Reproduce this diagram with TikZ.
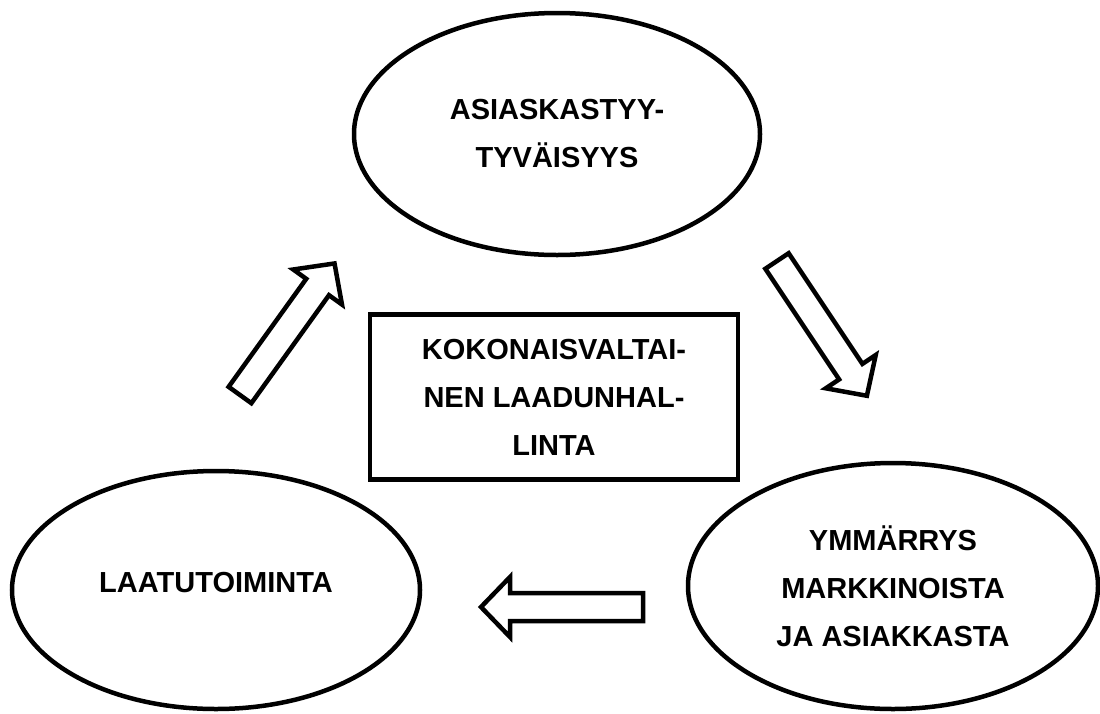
\documentclass[tikz,border=0pt]{standalone}
\usepackage{fontspec}
\setmainfont{Liberation Sans}
\usetikzlibrary{shapes.geometric}

\tikzset{
  oval/.style={draw, ellipse, line width=4.5pt, inner sep=0pt, align=center,
    font=\bfseries\fontsize{29}{48}\selectfont},
  box/.style={draw, rectangle, line width=4.5pt, inner sep=0pt, align=center,
    minimum width=368pt, minimum height=165pt,
    font=\bfseries\fontsize{29}{48}\selectfont},
  blockarrow/.pic={
    \draw[line width=4.5pt, line join=miter] (0,-14) -- (133,-14) -- (133,-30) -- (162,0)
      -- (133,30) -- (133,14) -- (0,14) -- cycle;
  }
}

\begin{document}
\begin{tikzpicture}[x=1pt, y=-1pt]
\useasboundingbox (0,0) rectangle (1100,713);
\node[oval, minimum width=406pt, minimum height=242pt] (tyytyvaisyys) at (557,134) {ASIASKASTYY-\\TYVÄISYYS};
\node[oval, minimum width=408pt, minimum height=238pt] (laatu) at (216,590) {\raisebox{16pt}{LAATUTOIMINTA}};
\node[oval, minimum width=410pt, minimum height=246pt] (ymmarrys) at (893,586) {YMMÄRRYS\\MARKKINOISTA\\JA ASIAKKASTA};
\node[box] (tqm) at (554,397) {KOKONAISVALTAI-\\NEN LAADUNHAL-\\LINTA};
% arrows round the circle
\pic[rotate=54.3] at (240,395) {blockarrow};
\pic[rotate=-56.3] at (777,261) {blockarrow};
\pic[rotate=180] at (643,607) {blockarrow};
\end{tikzpicture}
\end{document}
